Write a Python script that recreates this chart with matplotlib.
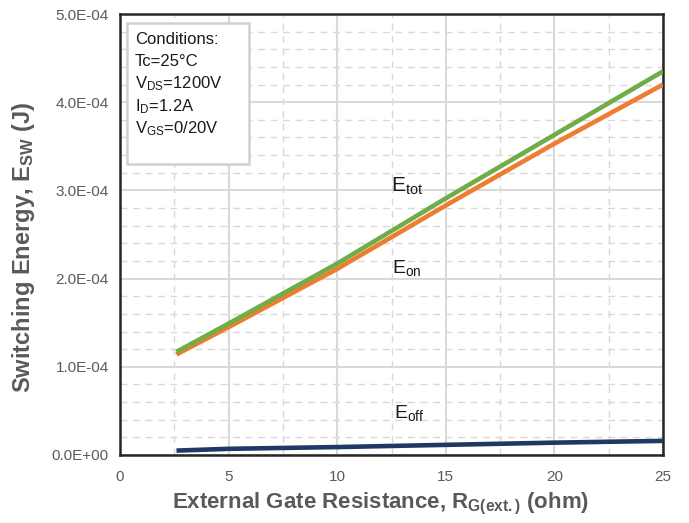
import matplotlib
matplotlib.use("Agg")
import matplotlib.pyplot as plt
from matplotlib.patches import Rectangle
from matplotlib.ticker import MultipleLocator, FuncFormatter

plt.rcParams['font.family'] = ['Liberation Sans', 'DejaVu Sans']
plt.rcParams['mathtext.fontset'] = 'custom'
plt.rcParams['mathtext.rm'] = 'Liberation Sans'
plt.rcParams['mathtext.it'] = 'Liberation Sans'
plt.rcParams['mathtext.bf'] = 'Liberation Sans:bold'

# gate resistance (ohm) and switching energies (J)
rg = [2.6, 5, 10, 15, 20, 25]
e_tot = [1.17e-4, 1.49e-4, 2.17e-4, 2.91e-4, 3.63e-4, 4.35e-4]
e_on = [1.14e-4, 1.45e-4, 2.11e-4, 2.83e-4, 3.53e-4, 4.20e-4]
e_off = [0.05e-4, 0.07e-4, 0.09e-4, 0.115e-4, 0.14e-4, 0.16e-4]

conditions = ['Conditions:', 'Tc=25°C', r'V$_{DS}$=1200V', r'I$_{D}$=1.2A', r'V$_{GS}$=0/20V']

fig = plt.figure(figsize=(6.89, 5.23), dpi=100)
ax = fig.add_axes([120 / 689, 68 / 523, 543 / 689, 441 / 523])

ax.plot(rg, e_off, color='#203864', lw=3.3, solid_capstyle='butt', zorder=3)
ax.plot(rg, e_on, color='#ED7D31', lw=3.3, solid_capstyle='butt', zorder=3)
ax.plot(rg, e_tot, color='#70AD47', lw=3.3, solid_capstyle='butt', zorder=4)

ax.set_xlim(0, 25)
ax.set_ylim(0, 5e-4)
ax.xaxis.set_major_locator(MultipleLocator(5))
ax.xaxis.set_minor_locator(MultipleLocator(2.5))
ax.yaxis.set_major_locator(MultipleLocator(1e-4))
ax.yaxis.set_minor_locator(MultipleLocator(0.2e-4))
ax.yaxis.set_major_formatter(FuncFormatter(lambda v, p: f'{v:.1E}'))

ax.grid(which='major', color='#d9d9d9', lw=1.5, ls='-')
ax.grid(which='minor', color='#d9d9d9', lw=1.0, ls=(0, (5, 4)))
ax.set_axisbelow(True)

ax.tick_params(which='both', length=0, labelsize=11, labelcolor='#595962')
ax.tick_params(axis='x', pad=11)
ax.tick_params(axis='y', pad=8)
for s in ax.spines.values():
    s.set_color('#262626')
    s.set_linewidth(1.8)

ax.set_xlabel(r'External Gate Resistance, R$_{\mathbf{G(ext.)}}$ (ohm)',
              fontsize=16, fontweight='bold', color='#595959')
ax.set_ylabel(r'Switching Energy, E$_{\mathbf{SW}}$ (J)',
              fontsize=17, fontweight='bold', color='#595959')
ax.xaxis.set_label_coords(0.48, -0.082)
ax.yaxis.set_label_coords(-0.152, 0.47)

# conditions box
ax.add_patch(Rectangle((0.013, 0.66), 0.225, 0.32, transform=ax.transAxes,
                       facecolor='white', edgecolor='#d0d0d0', lw=1.8, zorder=5))
y0 = 0.943
for i, line in enumerate(conditions):
    ax.text(0.027, y0 - i * 0.051, line, transform=ax.transAxes, fontsize=12,
            color='#1a1a1a', va='center', ha='left', zorder=6)

ax.text(13.2, 3.05e-4, r'E$_{tot}$', fontsize=15, ha='center', va='center', color='#1a1a1a')
ax.text(13.2, 2.12e-4, r'E$_{on}$', fontsize=14, ha='center', va='center', color='#1a1a1a')
ax.text(13.3, 0.48e-4, r'E$_{off}$', fontsize=14, ha='center', va='center', color='#1a1a1a')

fig.savefig('out.png', dpi=100)
